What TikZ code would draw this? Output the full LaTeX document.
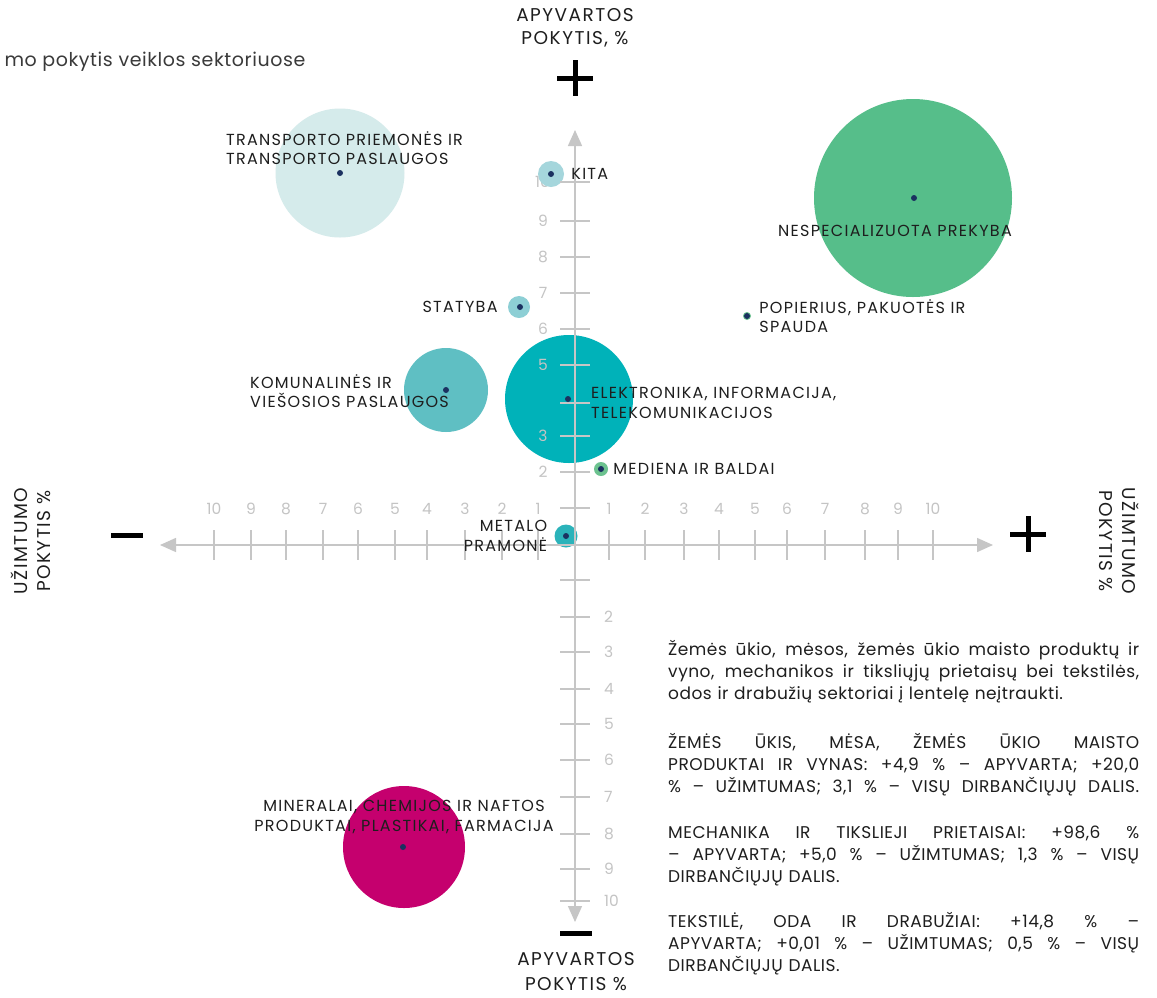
\documentclass[tikz,border=0pt]{standalone}
\usepackage{fontspec}
\setmainfont{Poppins}
\newfontfamily\plotas{Poppins}[LetterSpace=3]
\newfontfamily\platus{Poppins}[LetterSpace=8]
\usetikzlibrary{arrows.meta,positioning}

\definecolor{asis}{HTML}{C6C6C6}
\definecolor{skaic}{HTML}{C4C4C4}
\definecolor{taskas}{HTML}{1B3160}
\definecolor{tekstas}{HTML}{1E1E1E}
\definecolor{antraste}{HTML}{3A3A3A}
\definecolor{transp}{HTML}{D5EBEB}
\definecolor{kitas}{HTML}{A5D6DC}
\definecolor{prekyba}{HTML}{56BE8A}
\definecolor{statybos}{HTML}{8DCFD5}
\definecolor{zalias}{HTML}{6CC28F}
\definecolor{komun}{HTML}{5FBFC3}
\definecolor{elektr}{HTML}{00B2B9}
\definecolor{metalas}{HTML}{2BB3BA}
\definecolor{chemija}{HTML}{C5006E}

\newcommand{\eilute}[1]{\makebox[471pt][s]{\spaceskip=.28em plus 1fil\relax #1}\\}

\begin{document}
\begin{tikzpicture}[x=1pt,y=-1pt,
    bubble/.style={circle,inner sep=0pt,draw=none},
    dot/.style={circle,fill=taskas,inner sep=0pt,minimum size=6pt},
    lbl/.style={font=\platus\fontsize{16}{19.5}\selectfont,text=tekstas,inner sep=0pt},
    num/.style={font=\fontsize{15.5}{18}\selectfont,text=skaic,inner sep=0pt},
    axis/.style={draw=asis,line width=1.4pt,{Triangle[length=16pt,width=14pt]}-{Triangle[length=16pt,width=14pt]}},
    tick/.style={draw=asis,line width=1.4pt},
    sign/.style={draw=black,line width=5pt},
    axlbl/.style={font=\platus\fontsize{18.5}{23.5}\selectfont,text=tekstas,align=center,inner sep=0pt},
    para/.style={font=\plotas\fontsize{17}{22}\selectfont,text=tekstas,text width=471pt,align=left,inner sep=0pt}]

    \path[fill=white,use as bounding box] (0,0) rectangle (1157,997);

    \node[anchor=west,font=\plotas\fontsize{19}{22}\selectfont,text=antraste] (antraste) at (1,62) {mo pokytis veiklos sektoriuose};

    % ašių pavadinimai
    \node[axlbl] (apyvVirsus) at (575,28) {APYVARTOS\\POKYTIS, \%};
    \node[axlbl,font=\platus\fontsize{18.5}{25}\selectfont] (apyvApacia) at (576,972) {APYVARTOS\\POKYTIS \%};
    \node[axlbl,rotate=90] (uzimtKaire) at (31,541) {UŽIMTUMO\\POKYTIS \%};
    \node[axlbl,rotate=-90] (uzimtDesine) at (1119,541) {UŽIMTUMO\\POKYTIS \%};

    \draw[sign] (557,78) -- (593,78) (575,60) -- (575,96);
    \draw[sign] (560,933) -- (592,933);
    \draw[sign] (111,535) -- (143,535);
    \draw[sign] (1010,534) -- (1046,534) (1028,516) -- (1028,552);

    \node[num,anchor=east] (v10) at (550,182) {10};

    % burbulai
    \node[bubble,fill=transp,minimum size=129pt] (transportas) at (340,173) {};
    \node[bubble,fill=kitas,minimum size=26pt] (kita) at (551,174) {};
    \node[bubble,fill=prekyba,minimum size=198pt] (nespec) at (913,198) {};
    \node[bubble,fill=statybos,minimum size=22pt] (statyba) at (519,307) {};
    \node[bubble,fill=zalias,minimum size=8pt] (popierius) at (747,316) {};
    \node[bubble,fill=komun,minimum size=84pt] (komunal) at (446,390) {};
    \node[bubble,fill=elektr,minimum size=128pt] (elektronika) at (569,399) {};
    \node[bubble,fill=zalias,minimum size=14pt] (mediena) at (601,469) {};
    \node[bubble,fill=metalas,minimum size=23pt] (metalas) at (566,536) {};
    \node[bubble,fill=chemija,minimum size=122pt] (mineralai) at (404,847) {};

    % ašys
    \coordinate (kaire) at (160,545);
    \coordinate (desine) at (993,545);
    \coordinate (virsus) at (575,130);
    \coordinate (apacia) at (575,922);
    \draw[axis] (kaire) -- (desine);
    \draw[axis] (virsus) -- (apacia);

    \foreach \x/\n in {214/10,251/9,286/8,323/7,358/6,395/5,427/4,465/3,502/2,538/1,
                       609/1,645/2,684/3,719/4,755/5,787/6,825/7,865/8,898/9,933/10}{
        \draw[tick] (\x,530) -- (\x,560);
        \node[num] at (\x,509) {\n};
    }
    \foreach \y in {508,472,436,403,365,329,293,257,221,182}
        \draw[tick] (560,\y) -- (590,\y);
    \foreach \y/\n in {472/2,436/3,365/5,329/6,293/7,257/8,221/9}
        \node[num] at (543,\y) {\n};
    \foreach \y/\n in {580/,617/2,652/3,689/4,724/5,760/6,797/7,834/8,869/9,901/10}{
        \draw[tick] (560,\y) -- (590,\y);
        \node[num,anchor=west] at (604,\y) {\n};
    }

    % taškai
    \foreach \b/\x/\y in {transportas/340/173,kita/551/174,nespec/914/198,statyba/520/307,
                          popierius/747/316,komunal/446/390,elektronika/568/399,
                          mediena/601/469,metalas/566/536,mineralai/403/847}
        \node[dot] (\b-c) at (\x,\y) {};

    % etiketės
    \node[lbl,anchor=west,align=left] (transportasL) at (226,148) {TRANSPORTO PRIEMONĖS IR\\TRANSPORTO PASLAUGOS};
    \node[lbl,right=7pt of kita] (kitaL) {KITA};
    \node[lbl] (nespecL) at (895,231) {NESPECIALIZUOTA PREKYBA};
    \node[lbl,left=10pt of statyba] (statybaL) {STATYBA};
    \node[lbl,right=8pt of popierius,align=left] (popieriusL) {POPIERIUS, PAKUOTĖS IR\\SPAUDA};
    \node[lbl,anchor=west,align=left] (komunalL) at (250,391) {KOMUNALINĖS IR\\VIEŠOSIOS PASLAUGOS};
    \node[lbl,anchor=west,align=left] (elektronikaL) at (591,403) {ELEKTRONIKA, INFORMACIJA,\\TELEKOMUNIKACIJOS};
    \node[lbl,right=5pt of mediena] (medienaL) {MEDIENA IR BALDAI};
    \node[lbl,left=7pt of metalas,align=right] (metalasL) {METALO\\PRAMONĖ};
    \node[lbl,align=center] (mineralaiL) at (404,817) {MINERALAI, CHEMIJOS IR NAFTOS\\PRODUKTAI, PLASTIKAI, FARMACIJA};

    % pastabos
    \node[para,anchor=north west] (pastaba1) at (668,640)
        {\eilute{Žemės ūkio, mėsos, žemės ūkio maisto produktų ir}\eilute{vyno, mechanikos ir tiksliųjų prietaisų bei tekstilės,}odos ir drabužių sektoriai į lentelę neįtraukti.};
    \node[para,below=30pt of pastaba1] (pastaba2)
        {\eilute{ŽEMĖS ŪKIS, MĖSA, ŽEMĖS ŪKIO MAISTO}\eilute{PRODUKTAI IR VYNAS: +4,9 \% – APYVARTA; +20,0}\makebox[471pt][s]{\spaceskip=.28em plus 1fil\relax \% – UŽIMTUMAS; 3,1 \% – VISŲ DIRBANČIŲJŲ DALIS.}};
    \node[para,below=29pt of pastaba2] (pastaba3)
        {\eilute{MECHANIKA IR TIKSLIEJI PRIETAISAI: +98,6 \%}\eilute{– APYVARTA; +5,0 \% – UŽIMTUMAS; 1,3 \% – VISŲ}DIRBANČIŲJŲ DALIS.};
    \node[para,below=26pt of pastaba3] (pastaba4)
        {\eilute{TEKSTILĖ, ODA IR DRABUŽIAI: +14,8 \% –}\eilute{APYVARTA; +0,01 \% – UŽIMTUMAS; 0,5 \% – VISŲ}DIRBANČIŲJŲ DALIS.};
\end{tikzpicture}
\end{document}
